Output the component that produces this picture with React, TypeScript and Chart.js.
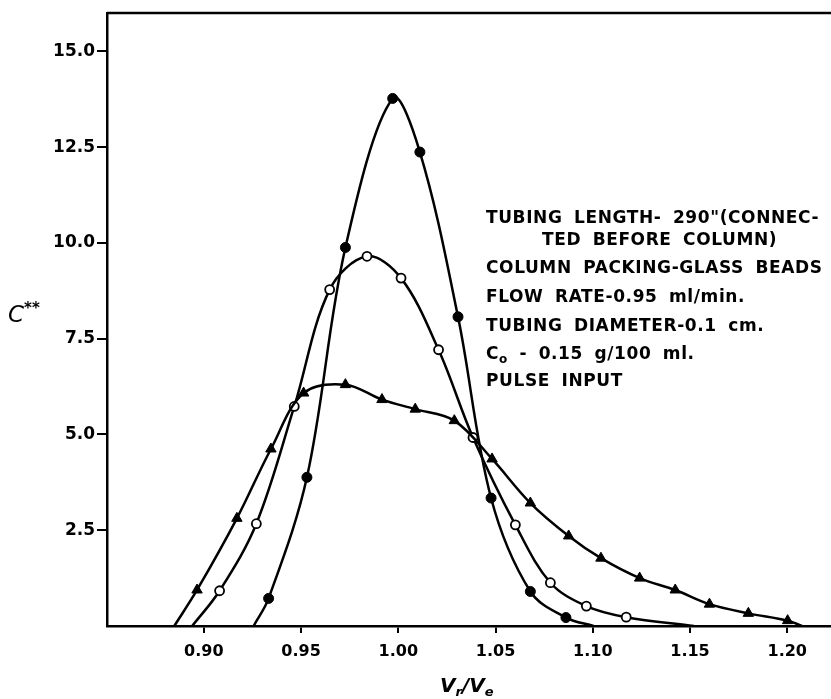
import React, { useEffect, useRef } from "react";
import { Chart, registerables } from "chart.js";

Chart.register(...registerables);

// ---- DATA ----
// Filled circles (tall, narrow peak)
const filledX = [0.9256, 0.9333, 0.953, 0.9728, 0.9971, 1.0111, 1.0307, 1.0477, 1.0679, 1.0862, 1.1004];
const filledY = [0, 0.72, 3.88, 9.88, 13.77, 12.37, 8.07, 3.34, 0.9, 0.22, 0];

// Open circles (medium peak)
const openX = [0.894, 0.9081, 0.927, 0.9465, 0.9647, 0.9839, 1.0014, 1.0207, 1.0384, 1.0602, 1.0782, 1.0967, 1.1172, 1.152];
const openY = [0, 0.92, 2.67, 5.73, 8.78, 9.65, 9.08, 7.21, 4.92, 2.64, 1.13, 0.52, 0.23, 0];

// Triangles (broad, low peak)
const triX = [0.8848, 0.8965, 0.917, 0.9345, 0.9513, 0.9728, 0.9916, 1.0087, 1.0288, 1.0482, 1.0679, 1.0876, 1.1042, 1.1241, 1.1424, 1.16, 1.18, 1.2002, 1.2076];
const triY = [0, 0.94, 2.81, 4.62, 6.08, 6.3, 5.91, 5.66, 5.36, 4.36, 3.21, 2.35, 1.77, 1.25, 0.94, 0.57, 0.33, 0.14, 0];

const xTicks = [0.9, 0.95, 1.0, 1.05, 1.1, 1.15, 1.2];
const xTickLabels = ["0.90", "0.95", "1.00", "1.05", "1.10", "1.15", "1.20"];
const yTicks = [2.5, 5, 7.5, 10, 12.5, 15];
const yTickLabels = ["2.5", "5.0", "7.5", "10.0", "12.5", "15.0"];

const xMin = 0.8502;
const xMax = 1.2225;
const yMin = 0;
const yMax = 16;

const W = 831;
const H = 699;

function toPoints(xs: number[], ys: number[]) {
  return xs.map((x, i) => ({ x, y: ys[i] }));
}
function radii(n: number, r: number) {
  return Array.from({ length: n }, (_, i) => (i === 0 || i === n - 1 ? 0 : r));
}

const framePlugin = {
  id: "frameTop",
  afterDraw(chart: any) {
    const { ctx, chartArea } = chart;
    ctx.save();
    ctx.strokeStyle = "#000";
    ctx.lineWidth = 2.5;
    ctx.beginPath();
    ctx.moveTo(chartArea.left, chartArea.top);
    ctx.lineTo(chartArea.right, chartArea.top);
    ctx.stroke();
    ctx.restore();
  },
};

const textStyle: React.CSSProperties = {
  position: "absolute",
  fontFamily: "'DejaVu Sans', sans-serif",
  fontWeight: "bold",
  fontSize: "17px",
  lineHeight: "20px",
  letterSpacing: "0.6px",
  wordSpacing: "5px",
  whiteSpace: "nowrap",
  color: "#000",
};

export default function App() {
  const canvasRef = useRef<HTMLCanvasElement | null>(null);

  useEffect(() => {
    const canvas = canvasRef.current;
    if (!canvas) return;
    const common = {
      borderColor: "#000",
      borderWidth: 2.5,
      tension: 0.35,
      fill: false,
      pointBorderColor: "#000",
    };
    const chart = new Chart(canvas, {
      type: "line",
      data: {
        datasets: [
          {
            ...common,
            label: "triangles",
            data: toPoints(triX, triY),
            pointStyle: "triangle",
            pointRadius: radii(triX.length, 6),
            pointBackgroundColor: "#000",
            pointBorderWidth: 1,
          },
          {
            ...common,
            label: "filled",
            data: toPoints(filledX, filledY),
            pointStyle: "circle",
            pointRadius: radii(filledX.length, 5),
            pointBackgroundColor: "#000",
            pointBorderWidth: 1,
          },
          {
            ...common,
            label: "open",
            data: toPoints(openX, openY),
            pointStyle: "circle",
            pointRadius: radii(openX.length, 4.5),
            pointBackgroundColor: "#fff",
            pointBorderWidth: 1.8,
          },
        ],
      },
      options: {
        responsive: false,
        animation: false,
        layout: { padding: { top: 13, right: 0, left: 0, bottom: 0 } },
        plugins: {
          legend: { display: false },
          tooltip: { enabled: false },
        },
        scales: {
          x: {
            type: "linear",
            min: xMin,
            max: xMax,
            afterFit: (s: any) => {
              s.height = H - 626;
            },
            afterBuildTicks: (s: any) => {
              s.ticks = xTicks.map((v) => ({ value: v }));
            },
            border: { display: true, color: "#000", width: 2.5 },
            grid: {
              drawOnChartArea: false,
              drawTicks: true,
              tickLength: 7,
              color: "#000",
              lineWidth: 2,
            },
            ticks: {
              padding: 9,
              color: "#000",
              maxRotation: 0,
              autoSkip: false,
              font: { family: "'DejaVu Sans', sans-serif", size: 16, weight: "bold" },
              callback: (_v: any, i: number) => xTickLabels[i],
            },
          },
          y: {
            type: "linear",
            min: yMin,
            max: yMax,
            afterFit: (s: any) => {
              s.width = 107;
            },
            afterBuildTicks: (s: any) => {
              s.ticks = yTicks.map((v) => ({ value: v }));
            },
            border: { display: true, color: "#000", width: 2.5 },
            grid: {
              drawOnChartArea: false,
              drawTicks: true,
              tickLength: 10,
              color: "#000",
              lineWidth: 2,
            },
            ticks: {
              padding: 2,
              color: "#000",
              autoSkip: false,
              font: { family: "'DejaVu Sans', sans-serif", size: 17, weight: "bold" },
              callback: (_v: any, i: number) => yTickLabels[i],
            },
          },
        },
      },
      plugins: [framePlugin],
    });
    return () => chart.destroy();
  }, []);

  return (
    <div style={{ position: "absolute", left: 0, top: 0, width: W, height: H, background: "#fff" }}>
      <canvas ref={canvasRef} width={W} height={H} style={{ display: "block" }} />
      {/* y-axis title */}
      <div
        style={{
          position: "absolute",
          left: 8,
          top: 295,
          fontFamily: "'DejaVu Sans', sans-serif",
          fontStyle: "italic",
          fontSize: "23px",
          lineHeight: "26px",
          color: "#000",
          whiteSpace: "nowrap",
        }}
      >
        C<sup style={{ fontSize: "15px", fontWeight: "bold", fontStyle: "normal", verticalAlign: "9px" }}>**</sup>
      </div>
      {/* x-axis title */}
      <div
        style={{
          position: "absolute",
          left: 440,
          top: 674,
          fontFamily: "'DejaVu Sans', sans-serif",
          fontStyle: "italic",
          fontWeight: "bold",
          fontSize: "20px",
          lineHeight: "22px",
          color: "#000",
          whiteSpace: "nowrap",
        }}
      >
        V<sub style={{ fontSize: "13px", verticalAlign: "-4px" }}>r</sub>/V<sub style={{ fontSize: "13px", verticalAlign: "-4px" }}>e</sub>
      </div>
      {/* annotation block */}
      <div style={{ ...textStyle, left: 486, top: 207 }}>TUBING LENGTH- 290"(CONNEC-</div>
      <div style={{ ...textStyle, left: 542, top: 229 }}>TED BEFORE COLUMN)</div>
      <div style={{ ...textStyle, left: 486, top: 257 }}>COLUMN PACKING-GLASS BEADS</div>
      <div style={{ ...textStyle, left: 486, top: 286 }}>FLOW RATE-0.95 ml/min.</div>
      <div style={{ ...textStyle, left: 486, top: 315 }}>TUBING DIAMETER-0.1 cm.</div>
      <div style={{ ...textStyle, left: 486, top: 343 }}>
        C<sub style={{ fontSize: "12px", verticalAlign: "-4px" }}>o</sub> - 0.15 g/100 ml.
      </div>
      <div style={{ ...textStyle, left: 486, top: 370 }}>PULSE INPUT</div>
    </div>
  );
}
